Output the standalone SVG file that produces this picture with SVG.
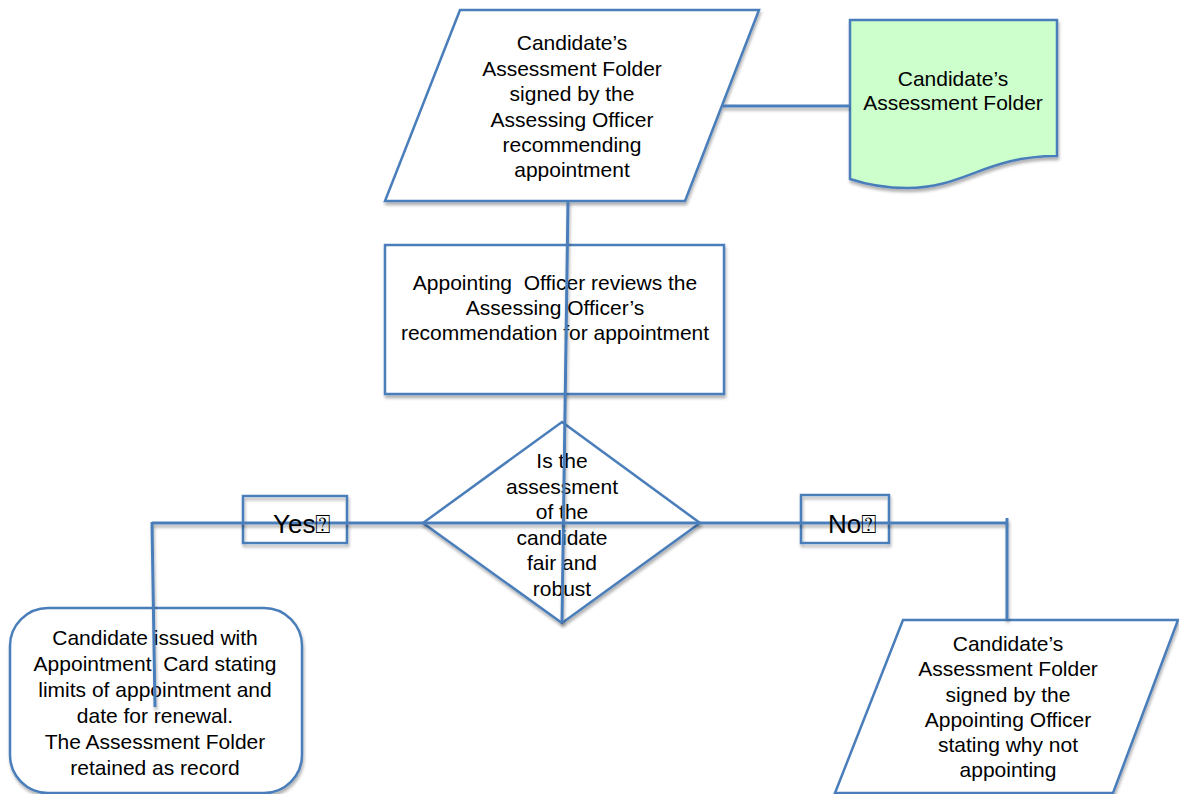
<svg xmlns="http://www.w3.org/2000/svg" width="1179" height="794" viewBox="0 0 1179 794">
<defs>
<filter id="sh" filterUnits="userSpaceOnUse" x="0" y="0" width="1179" height="794">
<feDropShadow dx="1" dy="3" stdDeviation="1.5" flood-color="#000" flood-opacity="0.3"/>
</filter>
</defs>
<style>
.n{fill:#fff;stroke:#4a7ebb;stroke-width:2.5;filter:url(#sh)}
.g{fill:#ccffcc}
.e{fill:none;stroke:#4a7ebb;stroke-width:3;filter:url(#sh)}
.t{font-family:"Liberation Sans",Arial,sans-serif;font-size:21px;fill:#000;text-anchor:middle}
.l{font-family:"Liberation Sans",Arial,"DejaVu Sans",sans-serif;font-size:26px;fill:#000}
</style>
<rect width="1179" height="794" fill="#fff"/>
<g id="n1">
<polygon class="n" points="460,10 759,10 685,201 385,201"/>
<text class="t" x="572" y="50">Candidate’s</text>
<text class="t" x="572" y="75.5">Assessment Folder</text>
<text class="t" x="572" y="101">signed by the</text>
<text class="t" x="572" y="126.5">Assessing Officer</text>
<text class="t" x="572" y="152">recommending</text>
<text class="t" x="572" y="177">appointment</text>
</g>
<g id="n2">
<path class="n g" d="M850,20 H1057 V156 C985,156 965,188 907,188 C885,188 865,184 850,179 Z"/>
<text class="t" x="953" y="86">Candidate’s</text>
<text class="t" x="953" y="110">Assessment Folder</text>
</g>
<g id="n3">
<rect class="n" x="385" y="245" width="339" height="149"/>
<text class="t" x="555" y="290" xml:space="preserve">Appointing  Officer reviews the</text>
<text class="t" x="555" y="315">Assessing Officer’s</text>
<text class="t" x="555" y="340">recommendation for appointment</text>
</g>
<g id="n4">
<polygon class="n" points="562,422 700,523 562,623 423,523"/>
<text class="t" x="562" y="468">Is the</text>
<text class="t" x="562" y="493.5">assessment</text>
<text class="t" x="562" y="519">of the</text>
<text class="t" x="562" y="544.5">candidate</text>
<text class="t" x="562" y="570">fair and</text>
<text class="t" x="562" y="595.5">robust</text>
</g>
<g id="n5">
<rect class="n" x="10" y="608" width="292" height="185" rx="38" ry="38"/>
<text class="t" x="155" y="645">Candidate issued with</text>
<text class="t" x="155" y="671" xml:space="preserve">Appointment  Card stating</text>
<text class="t" x="155" y="697">limits of appointment and</text>
<text class="t" x="155" y="723">date for renewal.</text>
<text class="t" x="155" y="749">The Assessment Folder</text>
<text class="t" x="155" y="775">retained as record</text>
</g>
<g id="n6">
<polygon class="n" points="903,620 1178,620 1113,793 835,793"/>
<text class="t" x="1008" y="651">Candidate’s</text>
<text class="t" x="1008" y="676">Assessment Folder</text>
<text class="t" x="1008" y="701.5">signed by the</text>
<text class="t" x="1008" y="726.5">Appointing Officer</text>
<text class="t" x="1008" y="752">stating why not</text>
<text class="t" x="1008" y="777">appointing</text>
</g>
<g id="yes">
<rect x="243" y="496" width="104" height="47" fill="none" stroke="#4a7ebb" stroke-width="2.5" filter="url(#sh)"/>
</g>
<g id="no">
<rect x="801" y="495" width="88" height="48" fill="none" stroke="#4a7ebb" stroke-width="2.5" filter="url(#sh)"/>
</g>
<g id="connectors">
<line class="e" x1="723" y1="106" x2="849" y2="106"/>
<line class="e" x1="568" y1="201" x2="562" y2="623"/>
<line class="e" x1="152" y1="523" x2="1007" y2="523"/>
<line class="e" x1="152" y1="522" x2="155" y2="707"/>
<line class="e" x1="1007" y1="518" x2="1007" y2="620"/>
</g>
<g id="labels">
<text class="l" x="273" y="533">Yes⍰</text>
<text class="l" x="828" y="533">No⍰</text>
</g>
</svg>
